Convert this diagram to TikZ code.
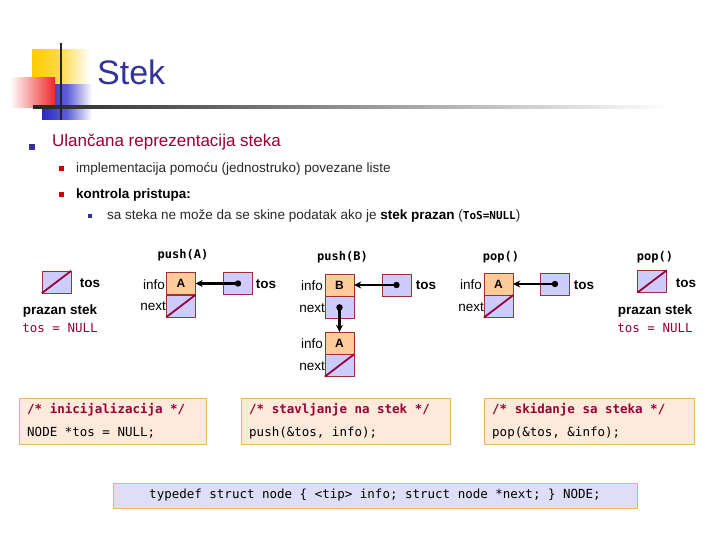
\documentclass[tikz,border=0pt]{standalone}
\usepackage{fontspec}
\setmainfont{Liberation Sans}
\setmonofont{DejaVu Sans Mono}
\usetikzlibrary{arrows.meta}

\definecolor{boxred}{RGB}{153,51,51}
\definecolor{slashred}{RGB}{153,0,51}
\definecolor{infofill}{RGB}{255,204,153}
\definecolor{ptrfill}{RGB}{204,204,255}
\definecolor{titleblue}{RGB}{51,51,153}
\definecolor{headred}{RGB}{153,0,51}
\definecolor{textgray}{RGB}{40,40,40}
\definecolor{codefill}{RGB}{253,234,218}
\definecolor{codeline}{RGB}{236,178,110}
\definecolor{typefill}{RGB}{222,222,246}
\definecolor{bulnavy}{RGB}{51,51,153}
\definecolor{bulred}{RGB}{204,0,0}
\definecolor{logoyellow}{RGB}{255,204,0}
\definecolor{logored}{RGB}{240,40,40}
\definecolor{logoblue}{RGB}{40,40,200}

\newcommand{\fsz}[1]{\fontsize{#1}{#1}\selectfont}

\tikzset{
  cell/.style = {draw=boxred, minimum width=29pt, minimum height=22pt, inner sep=0pt},
  infocell/.style = {cell, fill=infofill, font=\bfseries\fsz{12}},
  ptrcell/.style = {cell, fill=ptrfill},
  nullptr/.style = {draw=slashred, line width=1.8pt},
  link/.style = {line width=2.2pt, -{Stealth[length=7pt,width=7pt]}},
  txt/.style = {inner sep=0pt},
  lbl/.style = {txt, font=\fsz{13.5}},
  toslbl/.style = {txt, font=\bfseries\fsz{13.5}},
  oplbl/.style = {txt, font=\ttfamily\bfseries\fsz{12}},
  nulllbl/.style = {txt, text=slashred, font=\ttfamily\fsz{12.5}},
  codebox/.style = {draw=codeline, fill=codefill, inner sep=0pt},
  comment/.style = {txt, anchor=west, text=slashred, font=\ttfamily\bfseries\fsz{12.5}},
  code/.style = {txt, anchor=west, font=\ttfamily\fsz{12.5}}
}

\begin{document}
\begin{tikzpicture}[x=1pt, y=-1pt]
\useasboundingbox (0,0) rectangle (720,540);

% logo
\shade[left color=logoyellow, right color=white, middle color=logoyellow!70] (32,50) rectangle (90,85);
\shade[left color=logoblue, right color=white, middle color=logoblue!75] (42,85) rectangle (92,120);
\shade[left color=white, right color=logored] (10,78) rectangle (55,108);
\shade[left color=black!85, right color=white] (33,105.5) rectangle (670,108.5);
\draw[line width=2pt, black!85] (61,43) -- (61,120);
\node[txt, anchor=base west, text=titleblue, font=\fsz{34}] (title) at (97,85) {Stek};

% bullets
\fill[bulnavy] (29,144) rectangle (35,150);
\node[txt, anchor=west, text=headred, font=\fsz{17}] (head) at (52,142) {Ulančana reprezentacija steka};
\fill[bulred] (58.5,166.5) rectangle (63.5,171.5);
\node[txt, anchor=west, text=textgray, font=\fsz{13.5}] (sub1) at (76,169) {implementacija pomoću (jednostruko) povezane liste};
\fill[bulred] (58.5,192.5) rectangle (63.5,197.5);
\node[txt, anchor=west, font=\bfseries\fsz{13.5}] (sub2) at (76,195) {kontrola pristupa:};
\fill[bulnavy] (88,214) rectangle (92,218);
\node[txt, anchor=west, text=textgray, font=\fsz{13.5}] (subsub) at (107,216) {sa steka ne može da se skine podatak ako je \textcolor{black}{\textbf{stek prazan}} (\textcolor{black}{\texttt{\bfseries\fsz{11}ToS=NULL}})};

% operation headers
\node[oplbl] (opa) at (183,255) {push(A)};
\node[oplbl] (opb) at (342.5,257) {push(B)};
\node[oplbl] (opc) at (501,257) {pop()};
\node[oplbl] (opd) at (655,257) {pop()};

% empty stack
\node[ptrcell] (e1) at (56.5,282) {};
\draw[nullptr] (e1.south west) -- (e1.north east);
\node[toslbl] (e1t) at (90,283) {tos};
\node[toslbl] (e1s) at (60,311) {prazan stek};
\node[nulllbl] (e1n) at (60,328) {tos = NULL};

% push(A)
\node[infocell] (a1) at (181,283.5) {A};
\node[ptrcell, anchor=north] (n1) at (a1.south) {};
\draw[nullptr] (n1.south west) -- (n1.north east);
\node[lbl, anchor=east] (a1i) at (165,285) {info};
\node[lbl, anchor=east] (n1i) at (166,306) {next};
\node[ptrcell] (t1) at (238,283.5) {};
\fill (t1.center) circle (3.2pt);
\draw[link] (t1.center) -- (a1.east);
\node[toslbl] (t1t) at (266,284) {tos};

% push(B)
\node[infocell] (b2) at (339.5,285) {B};
\node[ptrcell, anchor=north] (n2) at (b2.south) {};
\node[infocell] (a2) at (339.5,343) {A};
\node[ptrcell, anchor=north] (n3) at (a2.south) {};
\draw[nullptr] (n3.south west) -- (n3.north east);
\fill (n2.center) circle (3.2pt);
\draw[link] (n2.center) -- (a2.north);
\node[lbl, anchor=east] (b2i) at (323,286) {info};
\node[lbl, anchor=east] (n2i) at (325,308) {next};
\node[lbl, anchor=east] (a2i) at (323,344) {info};
\node[lbl, anchor=east] (n3i) at (325,366) {next};
\node[ptrcell] (t2) at (396.5,285) {};
\fill (t2.center) circle (3.2pt);
\draw[link] (t2.center) -- (b2.east);
\node[toslbl] (t2t) at (426,285) {tos};

% pop()
\node[infocell] (a3) at (498.5,284) {A};
\node[ptrcell, anchor=north] (n4) at (a3.south) {};
\draw[nullptr] (n4.south west) -- (n4.north east);
\node[lbl, anchor=east] (a3i) at (482,285) {info};
\node[lbl, anchor=east] (n4i) at (484,307) {next};
\node[ptrcell] (t3) at (555,284) {};
\fill (t3.center) circle (3.2pt);
\draw[link] (t3.center) -- (a3.east);
\node[toslbl] (t3t) at (584,285) {tos};

% pop() -> empty
\node[ptrcell] (e4) at (652,281.5) {};
\draw[nullptr] (e4.south west) -- (e4.north east);
\node[toslbl] (e4t) at (686,283) {tos};
\node[toslbl] (e4s) at (655,311) {prazan stek};
\node[nulllbl] (e4n) at (655,328) {tos = NULL};

% code boxes
\node[codebox, minimum width=187pt, minimum height=46pt] (init) at (112.5,421) {};
\node[comment] (initc) at (27,410) {/* inicijalizacija */};
\node[code] (initl) at (27,433) {NODE *tos = NULL;};
\node[codebox, minimum width=209pt, minimum height=46pt] (push) at (345.5,421) {};
\node[comment] (pushc) at (249,410) {/* stavljanje na stek */};
\node[code] (pushl) at (249,433) {push(\&tos, info);};
\node[codebox, minimum width=210pt, minimum height=46pt] (pop) at (589,421) {};
\node[comment] (popc) at (492,410) {/* skidanje sa steka */};
\node[code] (popl) at (492,433) {pop(\&tos, \&info);};

% type
\node[codebox, fill=typefill, minimum width=524pt, minimum height=25pt] (type) at (375,495.5) {};
\node[code, anchor=center] (typel) at (type.center) {typedef struct node \{ <tip> info; struct node *next; \} NODE;};
\end{tikzpicture}
\end{document}
